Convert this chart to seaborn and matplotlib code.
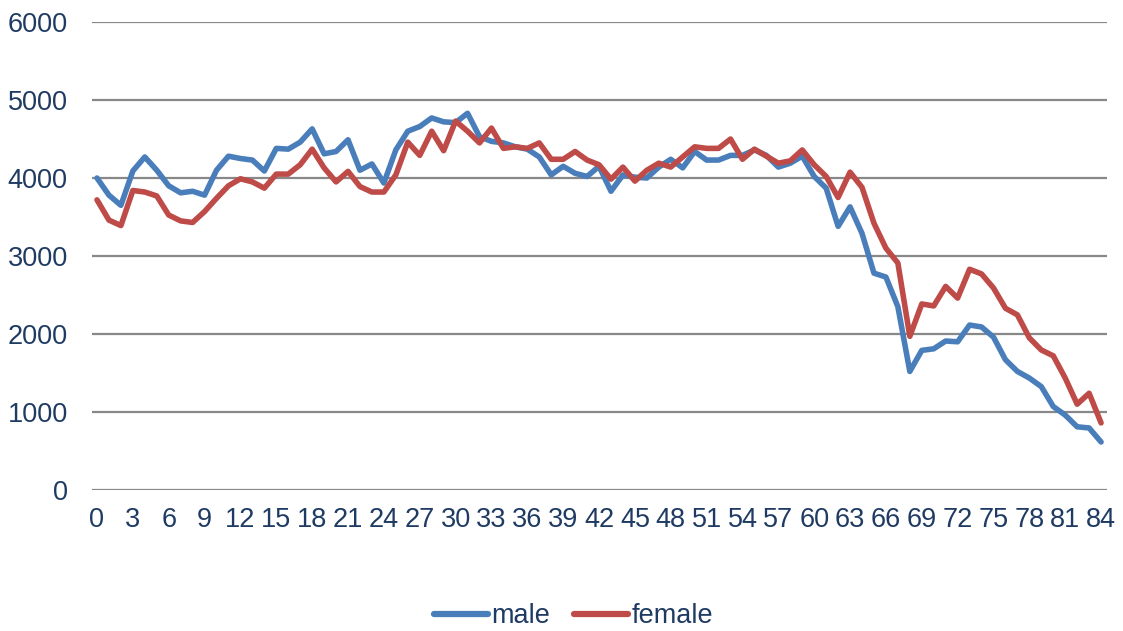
import numpy as np
import pandas as pd
import matplotlib
matplotlib.use("Agg")
import matplotlib.pyplot as plt
import seaborn as sns

# age 0..84, counts
age = list(range(85))

male = [4000, 3780, 3650, 4090, 4270, 4100, 3900, 3810, 3830, 3780,
        4100, 4280, 4250, 4230, 4090, 4380, 4370, 4460, 4630, 4310,
        4340, 4490, 4100, 4180, 3935, 4360, 4600, 4660, 4770, 4720,
        4710, 4830, 4530, 4470, 4450, 4400, 4370, 4270, 4040, 4150,
        4060, 4020, 4150, 3830, 4040, 4010, 4000, 4140, 4240, 4130,
        4340, 4230, 4230, 4290, 4290, 4360, 4290, 4140, 4190, 4280,
        4020, 3870, 3380, 3630, 3290, 2780, 2730, 2350, 1520, 1790,
        1810, 1910, 1900, 2115, 2090, 1960, 1670, 1520, 1435, 1325,
        1070, 960, 810, 795, 615]

female = [3720, 3460, 3390, 3840, 3820, 3770, 3525, 3450, 3430, 3570,
          3740, 3900, 3990, 3950, 3870, 4050, 4050, 4170, 4370, 4130,
          3950, 4085, 3890, 3820, 3820, 4040, 4460, 4290, 4600, 4350,
          4730, 4600, 4450, 4640, 4380, 4400, 4380, 4450, 4240, 4240,
          4340, 4230, 4170, 3985, 4140, 3960, 4100, 4190, 4140, 4270,
          4400, 4380, 4380, 4500, 4240, 4370, 4280, 4190, 4220, 4360,
          4170, 4020, 3750, 4075, 3880, 3420, 3100, 2910, 1970, 2385,
          2360, 2610, 2460, 2830, 2770, 2590, 2330, 2245, 1950, 1795,
          1720, 1435, 1100, 1240, 860]

series = ["male", "female"]
colors = ["#4A7EBB", "#BE4B48"]
y_ticks = [0, 1000, 2000, 3000, 4000, 5000, 6000]
x_ticks = list(range(0, 85, 3))

df = pd.DataFrame({
    "age": age * 2,
    "count": male + female,
    "sex": ["male"] * len(age) + ["female"] * len(age),
})

sns.set_style("white")
plt.rcParams["font.family"] = ["Liberation Sans", "DejaVu Sans"]
text_col = "#1F3B63"

fig = plt.figure(figsize=(11.23, 6.31), dpi=100)
ax = fig.add_axes([0.0819, 0.2235, 0.9039, 0.7416])

sns.lineplot(data=df, x="age", y="count", hue="sex", hue_order=series,
             palette=colors, linewidth=4.0, ax=ax, legend=True)
for ln in ax.lines:
    ln.set_solid_capstyle("round")
    ln.set_solid_joinstyle("round")

ax.set_xlim(-0.42, 84.5)
ax.set_ylim(0, 6000)
ax.set_yticks(y_ticks)
ax.set_xticks(x_ticks)
ax.set_xticklabels([str(v) for v in x_ticks])
ax.yaxis.grid(True, color="#888888", linewidth=1.6)
ax.set_axisbelow(True)
for s in ax.spines.values():
    s.set_visible(False)
ax.tick_params(axis="both", length=0, labelsize=19.5, labelcolor=text_col)
ax.tick_params(axis="x", pad=12)
ax.tick_params(axis="y", pad=17.5)
ax.set_xlabel("")
ax.set_ylabel("")

handles, labels = ax.get_legend_handles_labels()
leg = ax.legend(handles, labels, loc="center", bbox_to_anchor=(0.5107, 15 / 631),
                bbox_transform=fig.transFigure, ncol=2, frameon=False,
                fontsize=19.5, handlelength=2.0, handletextpad=0.1,
                columnspacing=0.9, labelcolor=text_col)
for h in leg.get_lines():
    h.set_linewidth(4.5)
    h.set_solid_capstyle("round")

fig.savefig("out.png", dpi=100)
